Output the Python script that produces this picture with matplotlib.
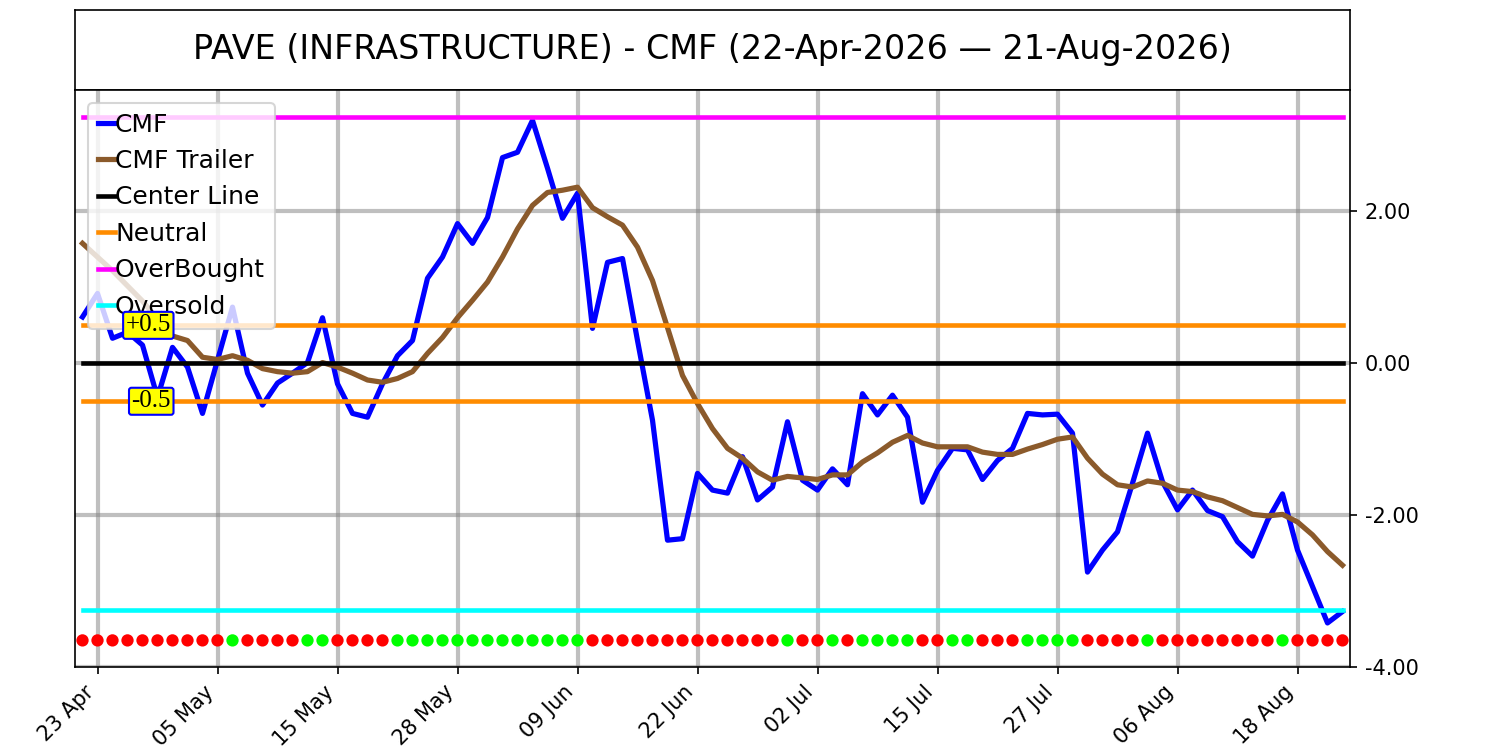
import matplotlib.pyplot as plt
import numpy as np
import pandas as pd

title = "PAVE (INFRASTRUCTURE) - CMF (22-Apr-2026 — 21-Aug-2026)"
holidays = ["2026-05-25", "2026-06-19", "2026-07-03"]
dates = pd.bdate_range("2026-04-22", "2026-08-21", freq="C", holidays=holidays)

cmf = [0.61, 0.92, 0.33, 0.41, 0.24, -0.45, 0.21, -0.05, -0.66, 0.04,
       0.74, -0.13, -0.55, -0.26, -0.13, 0.01, 0.60, -0.27, -0.66, -0.71,
       -0.27, 0.10, 0.30, 1.12, 1.40, 1.84, 1.58, 1.92, 2.71, 2.78,
       3.20, 2.57, 1.91, 2.24, 0.46, 1.33, 1.38, 0.30, -0.75, -2.33,
       -2.31, -1.45, -1.67, -1.71, -1.23, -1.80, -1.63, -0.77, -1.54, -1.67,
       -1.39, -1.60, -0.40, -0.68, -0.42, -0.71, -1.83, -1.41, -1.12, -1.14,
       -1.53, -1.28, -1.12, -0.66, -0.68, -0.67, -0.92, -2.75, -2.46, -2.22,
       -1.58, -0.92, -1.56, -1.93, -1.67, -1.94, -2.02, -2.35, -2.54, -2.07,
       -1.72, -2.46, -2.94, -3.42, -3.27]
trailer = [1.58, 1.40, 1.22, 1.02, 0.82, 0.58, 0.36, 0.30, 0.08, 0.05,
           0.10, 0.04, -0.07, -0.11, -0.13, -0.11, 0.01, -0.05, -0.13, -0.22,
           -0.25, -0.20, -0.11, 0.13, 0.34, 0.60, 0.83, 1.07, 1.40, 1.77,
           2.08, 2.25, 2.28, 2.32, 2.05, 1.93, 1.82, 1.53, 1.09, 0.47,
           -0.16, -0.53, -0.86, -1.12, -1.25, -1.43, -1.54, -1.49, -1.51, -1.53,
           -1.47, -1.47, -1.30, -1.18, -1.04, -0.95, -1.05, -1.10, -1.10, -1.10,
           -1.17, -1.20, -1.20, -1.13, -1.07, -1.00, -0.97, -1.25, -1.46, -1.60,
           -1.63, -1.55, -1.58, -1.67, -1.69, -1.76, -1.81, -1.90, -1.99, -2.01,
           -1.99, -2.09, -2.26, -2.48, -2.66]
# 1 = green dot, 0 = red dot
signal = [0, 0, 0, 0, 0, 0, 0, 0, 0, 0,
          1, 0, 0, 0, 0, 1, 1, 0, 0, 0,
          0, 1, 1, 1, 1, 1, 1, 1, 1, 1,
          1, 1, 1, 1, 0, 0, 0, 0, 0, 0,
          0, 0, 0, 0, 0, 0, 0, 1, 0, 0,
          1, 0, 1, 1, 1, 1, 0, 0, 1, 1,
          0, 0, 0, 1, 1, 1, 1, 0, 0, 0,
          0, 1, 0, 0, 0, 0, 0, 0, 0, 0,
          1, 0, 0, 0, 0]

overbought = 3.25
oversold = -3.25
neutral = 0.5
center = 0.0
dot_level = -3.65
y_ticks = [-4, -2, 0, 2]

x = np.arange(len(dates))
n = len(x)

fig = plt.figure(figsize=(10, 5), dpi=150)

# title box
ax_t = fig.add_axes([0.05, 0.88, 0.85, 0.1067])
ax_t.set_xticks([])
ax_t.set_yticks([])
ax_t.text(0.5, 0.5, title, ha="center", va="center", fontsize=16,
          transform=ax_t.transAxes)

ax = fig.add_axes([0.05, 0.1107, 0.85, 0.7693])
ax.grid(True, color="gray", alpha=0.5, linewidth=2)
ax.plot(x, cmf, color="blue", lw=2.5, label="CMF")
ax.plot(x, trailer, color="#8B5A2B", lw=2.5, label="CMF Trailer")
ax.plot(x, np.full(n, center), color="black", lw=2.2, label="Center Line")
ax.plot(x, np.full(n, neutral), color="#ff8c00", lw=2.2, label="Neutral")
ax.plot(x, np.full(n, -neutral), color="#ff8c00", lw=2.2)
ax.plot(x, np.full(n, overbought), color="magenta", lw=2.2, label="OverBought")
ax.plot(x, np.full(n, oversold), color="cyan", lw=2.2, label="Oversold")

colors = ["#00ff00" if s else "red" for s in signal]
ax.scatter(x, np.full(n, dot_level), c=colors, s=24, zorder=3)

for v, lab in [(neutral, "+0.5"), (-neutral, "-0.5")]:
    ax.text(5.9, v, lab, ha="right", va="center", fontsize=12,
            family="Liberation Serif", zorder=6,
            bbox=dict(boxstyle="round,pad=0.1", fc="yellow", ec="blue", lw=1))

ax.set_xlim(-0.5, n - 0.5)
ax.set_ylim(-4.0, 3.6)
ax.yaxis.tick_right()
ax.set_yticks(y_ticks)
ax.yaxis.set_major_formatter(plt.FormatStrFormatter("%.2f"))
ax.set_xticks(x[1::8])
ax.set_xticklabels(dates[1::8].strftime("%d %b"), rotation=45, ha="right")

leg = ax.legend(loc="upper left", fontsize=12, handlelength=0.7,
                handletextpad=0, labelspacing=0.5)
leg.set_zorder(5)

fig.savefig("out.png", dpi=150)
